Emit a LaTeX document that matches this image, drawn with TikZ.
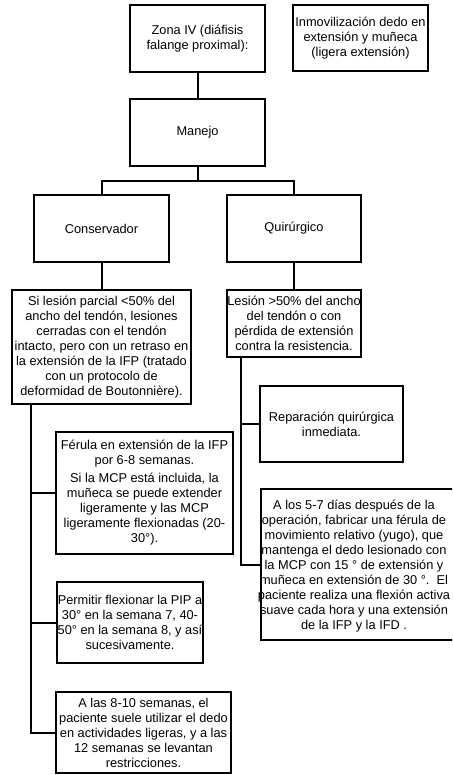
\documentclass[tikz,border=0pt]{standalone}
\usepackage{fontspec}
\setmainfont{Liberation Sans}
\begin{document}
\begin{tikzpicture}[x=1pt,y=-1pt,
  box/.style={draw=black,line width=2pt,inner sep=0pt,minimum width=#1},
  txt/.style={align=center,inner sep=0pt,font=\fontsize{12.8}{15}\selectfont},
  link/.style={draw=black,line width=2pt}]
\useasboundingbox (0,0) rectangle (452,775);
\clip (0,0) rectangle (452,775);
% top row
\node[box=135pt,minimum height=67pt] (zona) at (197.5,38.5) {};
\node[txt] at (zona) {Zona IV (diáfisis\\falange proximal):};
\node[box=135pt,minimum height=66pt] (inmo) at (360.5,38) {};
\node[txt] at (inmo) {Inmovilización dedo en\\extensión y muñeca\\(ligera extensión)};
\node[box=135pt,minimum height=67pt] (manejo) at (197.5,132.5) {};
\node[txt] at (manejo) {Manejo};
% two branches
\node[box=135pt,minimum height=67pt] (cons) at (101.5,228.5) {};
\node[txt] at (cons) {Conservador};
\node[box=134pt,minimum height=67pt] (quir) at (294,228.5) {};
\node[txt] at (quir) {Quirúrgico};
% criteria
\node[box=179pt,minimum height=114pt] (crit) at (101.5,347) {};
\node[txt] at (101.5,347.5) {Si lesión parcial <50\% del\\ancho del tendón, lesiones\\cerradas con el tendón\\intacto, pero con un retraso en\\la extensión de la IFP (tratado\\con un protocolo de\\deformidad de Boutonnière).};
\node[box=134pt,minimum height=67pt] (lesq) at (294,323.5) {};
\node[txt] at (lesq) {Lesión >50\% del ancho\\del tendón o con\\pérdida de extensión\\contra la resistencia.};
% surgical steps
\node[box=143pt,minimum height=76pt] (repar) at (331.5,424) {};
\node[txt] at (repar) {Reparación quirúrgica\\inmediata.};
\node[box=209pt,minimum height=151pt] (postop) at (365.5,564.5) {};
\node[txt] at (354,566) {A los 5-7 días después de la\\operación, fabricar una férula de\\movimiento relativo (yugo), que\\mantenga el dedo lesionado con\\la MCP con 15 ° de extensión y\\muñeca en extensión de 30 °.\ \ El\\paciente realiza una flexión activa\\suave cada hora y una extensión\\de la IFP y la IFD .};
% conservative steps
\node[box=177pt,minimum height=122pt] (ferula) at (144.5,493) {};
\node[txt] at (ferula) {Férula en extensión de la IFP\\por 6-8 semanas.\\[3pt]Si la MCP está incluida, la\\muñeca se puede extender\\ligeramente y las MCP\\ligeramente flexionadas (20-\\30°).};
\node[box=146pt,minimum height=81pt] (permitir) at (130,622.5) {};
\node[txt] at (permitir) {Permitir flexionar la PIP a\\30° en la semana 7, 40-\\50° en la semana 8, y así\\sucesivamente.};
\node[box=175pt,minimum height=81pt] (alas) at (143.5,732.5) {};
\node[txt] at (alas) {A las 8-10 semanas, el\\paciente suele utilizar el dedo\\en actividades ligeras, y a las\\12 semanas se levantan\\restricciones.};
% connectors
\coordinate (split) at (197.5,181);
\coordinate (rspine) at (241,357);
\coordinate (lspine) at (31,404);
\draw[link] (zona) -- (manejo);
\draw[link] (manejo) -- (split);
\draw[link] (cons.north) |- (split) -| (quir.north);
\draw[link] (cons) -- (crit);
\draw[link] (quir) -- (lesq);
\draw[link] (rspine) |- (postop.west);
\draw[link] (rspine |- repar.west) -- (repar.west);
\draw[link] (lspine) |- (alas.west);
\draw[link] (lspine |- ferula.west) -- (ferula.west);
\draw[link] (lspine |- permitir.west) -- (permitir.west);
\end{tikzpicture}
\end{document}
